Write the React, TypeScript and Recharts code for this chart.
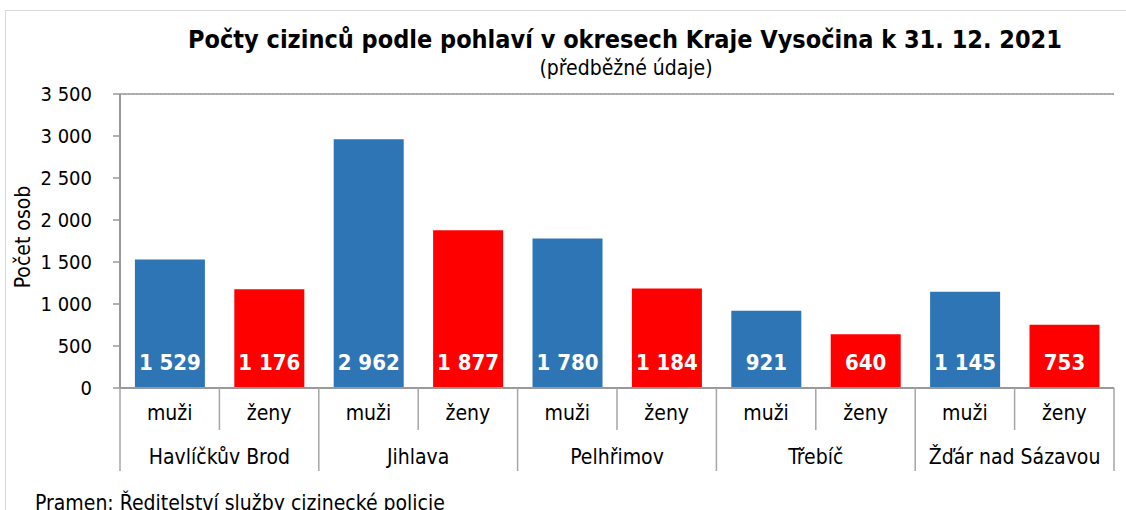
import React from 'react';
import { BarChart, Bar, XAxis, YAxis, CartesianGrid, Cell, LabelList, ReferenceLine } from 'recharts';

const districts = ['Havlíčkův Brod', 'Jihlava', 'Pelhřimov', 'Třebíč', 'Žďár nad Sázavou'];
const sexes = ['muži', 'ženy'];
const men = [1529, 2962, 1780, 921, 1145];
const women = [1176, 1877, 1184, 640, 753];
const yTicks = [0, 500, 1000, 1500, 2000, 2500, 3000, 3500];

const BLUE = '#2E75B6';
const RED = '#FF0000';
const FONT = '"DejaVu Sans Condensed", "DejaVu Sans", sans-serif';

const W = 1126;
const H = 510;
const PLOT_LEFT = 120;
const PLOT_RIGHT = 1114;
const PLOT_TOP = 94;
const PLOT_BOTTOM = 388;
const X_AXIS_H = 84;

const data = districts.flatMap((d, i) => [
  { key: `${d}-m`, district: d, sex: sexes[0], value: men[i], color: BLUE },
  { key: `${d}-z`, district: d, sex: sexes[1], value: women[i], color: RED },
]);

const fmt = (v: number) => String(v).replace(/\B(?=(\d{3})+(?!\d))/g, ' ');

const slot = (PLOT_RIGHT - PLOT_LEFT) / data.length;

const XTick = (props: any) => {
  const { x, y, payload, index } = props;
  const i = payload?.index ?? index;
  const entry = data[i];
  const left = x - slot / 2;
  const right = x + slot / 2;
  const isFirst = i % 2 === 0;
  const lineColor = '#a6a6a6';
  return (
    <g>
      <line x1={left} x2={left} y1={y} y2={y + (isFirst ? X_AXIS_H - 1 : 42)} stroke={lineColor} strokeWidth={1.5} />
      {i === data.length - 1 && (
        <line x1={right} x2={right} y1={y} y2={y + X_AXIS_H - 1} stroke={lineColor} strokeWidth={1.5} />
      )}
      <text x={x} y={y + 26} textAnchor="middle" dominantBaseline="middle" fontSize={21} fontFamily={FONT} fill="#000">
        {entry.sex}
      </text>
      {isFirst && (
        <text x={right} y={y + 70} textAnchor="middle" dominantBaseline="middle" fontSize={21} fontFamily={FONT} fill="#000">
          {entry.district}
        </text>
      )}
    </g>
  );
};

const BarLabel = (props: any) => {
  const { x, y, width, height, value } = props;
  return (
    <text
      x={x + width / 2}
      y={y + height - 24}
      textAnchor="middle"
      dominantBaseline="middle"
      fontSize={22}
      fontWeight="bold"
      fontFamily={FONT}
      fill="#fff"
    >
      {fmt(value)}
    </text>
  );
};

export default function App() {
  return (
    <div style={{ position: 'absolute', left: 0, top: 0, width: W, height: H, overflow: 'hidden', background: '#fff', fontFamily: FONT }}>
      <div style={{ position: 'absolute', left: 5, top: 10, width: 1300, height: 700, border: '1px solid #d9d9d9' }} />
      <div style={{ position: 'absolute', left: 625, top: 24, transform: 'translateX(-50%)', fontSize: 25, fontWeight: 'bold', color: '#000', lineHeight: '32px', whiteSpace: 'nowrap' }}>
        Počty cizinců podle pohlaví v okresech Kraje Vysočina k 31. 12. 2021
      </div>
      <div style={{ position: 'absolute', left: 626, top: 55, transform: 'translateX(-50%)', fontSize: 21, color: '#000', whiteSpace: 'nowrap', lineHeight: '26px' }}>
        (předběžné údaje)
      </div>
      <div style={{ position: 'absolute', left: 23, top: 237, transform: 'translate(-50%, -50%) rotate(-90deg)', fontSize: 21, color: '#000', whiteSpace: 'nowrap', lineHeight: '26px' }}>
        Počet osob
      </div>
      <div style={{ position: 'absolute', left: 35, top: 490, fontSize: 21, color: '#000', whiteSpace: 'nowrap', lineHeight: '26px' }}>
        Pramen: Ředitelství služby cizinecké policie
      </div>
      <div style={{ position: 'absolute', left: 0, top: 0 }}>
        <BarChart
          width={W}
          height={H}
          data={data}
          margin={{ top: PLOT_TOP, right: W - PLOT_RIGHT, bottom: H - PLOT_BOTTOM - X_AXIS_H, left: 0 }}
          barCategoryGap="15%"
        >
          <CartesianGrid horizontal vertical={false} stroke="#b4b4b4" strokeDasharray="2 2" />
          <XAxis
            dataKey="key"
            interval={0}
            height={X_AXIS_H}
            tickSize={0}
            tickMargin={0}
            tickLine={false}
            tick={<XTick />}
            axisLine={{ stroke: '#999', strokeWidth: 2 }}
          />
          <YAxis
            yAxisId="left"
            width={PLOT_LEFT}
            domain={[0, 3500]}
            ticks={yTicks}
            interval={0}
            tickFormatter={fmt}
            tickSize={7}
            tickMargin={21}
            tick={{ fontSize: 20, fontFamily: FONT, fill: '#000' }}
            tickLine={{ stroke: '#999', strokeWidth: 1.5 }}
            axisLine={{ stroke: '#999', strokeWidth: 2 }}
          />
          <YAxis
            yAxisId="right"
            orientation="right"
            width={0}
            domain={[0, 3500]}
            tick={false}
            tickLine={false}
            axisLine={{ stroke: '#aaa', strokeWidth: 2 }}
          />
          <ReferenceLine yAxisId="left" y={3500} stroke="#999" strokeWidth={1.5} />
          <Bar yAxisId="left" dataKey="value" isAnimationActive={false}>
            {data.map((d) => (
              <Cell key={d.key} fill={d.color} />
            ))}
            <LabelList dataKey="value" content={<BarLabel />} />
          </Bar>
        </BarChart>
      </div>
    </div>
  );
}
